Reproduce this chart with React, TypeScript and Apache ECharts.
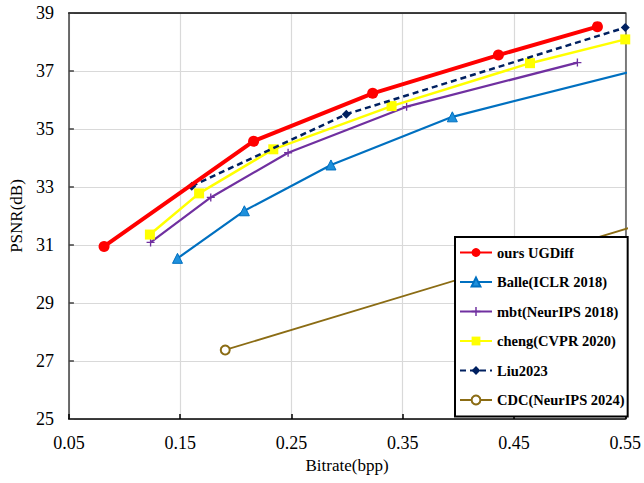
import React, { useEffect, useRef } from "react";
import * as echarts from "echarts";

const seriesNames = [
  "ours UGDiff",
  "Balle(ICLR 2018)",
  "mbt(NeurIPS 2018)",
  "cheng(CVPR 2020)",
  "Liu2023",
  "CDC(NeurIPS 2024)",
];

const oursData = [
  [0.0816, 30.95],
  [0.216, 34.58],
  [0.323, 36.23],
  [0.436, 37.55],
  [0.525, 38.53],
];
const balleData = [
  [0.1476, 30.54],
  [0.2077, 32.18],
  [0.2855, 33.76],
  [0.3946, 35.42],
  [0.58, 37.22],
];
const mbtData = [
  [0.1234, 31.09],
  [0.1775, 32.64],
  [0.247, 34.18],
  [0.3535, 35.77],
  [0.507, 37.29],
];
const chengData = [
  [0.1228, 31.36],
  [0.167, 32.78],
  [0.2337, 34.3],
  [0.34, 35.79],
  [0.4644, 37.27],
  [0.55, 38.09],
];
const liuData = [
  [0.1604, 33.03],
  [0.2993, 35.51],
  [0.55, 38.5],
];
const cdcData = [
  [0.1905, 27.38],
  [0.6, 32.13],
];

const xMin = 0.05;
const xMax = 0.55;
const xInterval = 0.1;
const yMin = 25;
const yMax = 39;
const yInterval = 2;

const FONT = "Liberation Serif";

export default function App() {
  const ref = useRef<HTMLDivElement>(null);
  useEffect(() => {
    if (!ref.current) return;
    const chart = echarts.init(ref.current, null, { renderer: "svg" });
    const plus = "path://M-1,-6H1V-1H6V1H1V6H-1V1H-6V-1H-1Z";
    chart.setOption({
      animation: false,
      backgroundColor: "#ffffff",
      grid: { left: 67, right: 13, top: 13, bottom: 64, containLabel: false },
      xAxis: [
        {
          type: "value",
          min: xMin,
          max: xMax,
          interval: xInterval,
          name: "Bitrate(bpp)",
          nameLocation: "middle",
          nameGap: 30,
          nameTextStyle: { fontFamily: FONT, fontSize: 17, color: "#000" },
          axisLine: { show: true, lineStyle: { color: "#000", width: 1.5 } },
          axisTick: { show: true, inside: true, length: 5, lineStyle: { color: "#000", width: 1.5 } },
          axisLabel: {
            fontFamily: FONT,
            fontSize: 18,
            color: "#000",
            margin: 15,
            formatter: (v: number) => v.toFixed(2),
          },
          splitLine: { show: true, lineStyle: { color: "#d9d9d9", width: 1.2 } },
        },
        {
          type: "value",
          position: "top",
          min: xMin,
          max: xMax,
          interval: xInterval,
          axisLine: { show: true, onZero: false, lineStyle: { color: "#000", width: 1.5 } },
          axisTick: { show: false },
          axisLabel: { show: false },
          splitLine: { show: false },
        },
      ],
      yAxis: [
        {
          type: "value",
          min: yMin,
          max: yMax,
          interval: yInterval,
          name: "PSNR(dB)",
          nameLocation: "middle",
          nameGap: 36,
          nameTextStyle: { fontFamily: FONT, fontSize: 17, color: "#000" },
          axisLine: { show: true, lineStyle: { color: "#404040", width: 1.5 } },
          axisTick: { show: true, inside: true, length: 5, lineStyle: { color: "#404040", width: 1.5 } },
          axisLabel: { fontFamily: FONT, fontSize: 18, color: "#000", margin: 15 },
          splitLine: { show: true, lineStyle: { color: "#d9d9d9", width: 1.2 } },
        },
        {
          type: "value",
          position: "right",
          min: yMin,
          max: yMax,
          interval: yInterval,
          axisLine: { show: true, onZero: false, lineStyle: { color: "#595959", width: 1.5 } },
          axisTick: { show: false },
          axisLabel: { show: false },
          splitLine: { show: false },
        },
      ],
      legend: {
        orient: "vertical",
        left: 455,
        top: 237,
        backgroundColor: "#fff",
        borderColor: "#000",
        borderWidth: 2,
        borderRadius: 0,
        padding: [8, 3, 9, 4],
        itemWidth: 32,
        itemHeight: 11,
        itemGap: 14.5,
        textStyle: { fontFamily: FONT, fontSize: 14.5, fontWeight: "bold", color: "#000" },
        data: seriesNames,
      },
      series: [
        {
          name: seriesNames[5],
          type: "line",
          data: cdcData,
          symbol: "emptyCircle",
          symbolSize: 9,
          z: 1,
          lineStyle: { color: "#8B6C14", width: 1.8 },
          itemStyle: { color: "#8B6C14", borderWidth: 1.5 },
        },
        {
          name: seriesNames[1],
          type: "line",
          data: balleData,
          symbol: "triangle",
          symbolSize: 10,
          z: 2,
          lineStyle: { color: "#0070C0", width: 2.2 },
          itemStyle: { color: "#1E90DC", borderColor: "#0070C0", borderWidth: 1 },
        },
        {
          name: seriesNames[2],
          type: "line",
          data: mbtData,
          symbol: plus,
          symbolSize: 8,
          z: 3,
          lineStyle: { color: "#7030A0", width: 2.2 },
          itemStyle: { color: "#7030A0" },
        },
        {
          name: seriesNames[3],
          type: "line",
          data: chengData,
          symbol: "rect",
          symbolSize: 10,
          z: 4,
          lineStyle: { color: "#FFFF00", width: 2.5 },
          itemStyle: { color: "#FFFF00" },
        },
        {
          name: seriesNames[4],
          type: "line",
          data: liuData,
          symbol: "diamond",
          symbolSize: 9,
          z: 5,
          lineStyle: { color: "#002060", width: 2.5, type: [6, 4] },
          itemStyle: { color: "#002060" },
        },
        {
          name: seriesNames[0],
          type: "line",
          data: oursData,
          symbol: "circle",
          symbolSize: 11,
          z: 6,
          lineStyle: { color: "#FF0000", width: 4 },
          itemStyle: { color: "#FF0000" },
        },
      ],
    });
    return () => chart.dispose();
  }, []);
  return (
    <div
      ref={ref}
      style={{ position: "fixed", left: 0, top: 0, width: 644, height: 483 }}
    />
  );
}
